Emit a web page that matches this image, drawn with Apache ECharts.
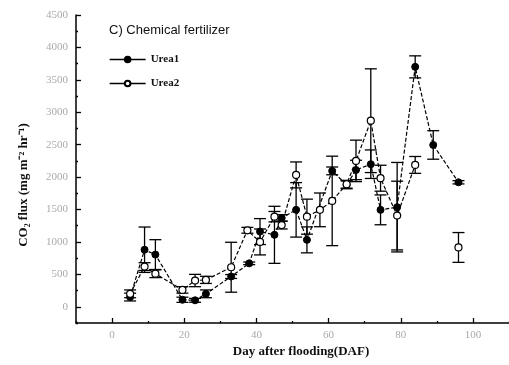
<!DOCTYPE html>
<html><head><meta charset="utf-8">
<script src="https://cdn.jsdelivr.net/npm/echarts@6/dist/echarts.min.js"></script>
<style>html,body{margin:0;padding:0;background:#fff}#c{width:509px;height:365px}</style>
</head><body><div id="c"></div>
<script>
// Day after flooding and CO2 flux values
const days1 = [5, 9, 12, 19.5, 23, 26, 33, 38, 41, 45, 47, 51, 54, 61, 65, 67.6, 71.7, 74.4, 79, 84, 89, 96];
const urea1 = [150, 880, 805, 108, 100, 200, 467, 670, 1160, 1110, 1370, 1495, 1032, 2096, 1880, 2110, 2199, 1495, 1536, 3700, 2496, 1920];
const err1  = [60, 350, 230, 40, 30, 60, 30, 20, 200, 440, 50, 420, 200, 60, 60, 150, 220, 230, 690, 170, 220, 25];

const days2 = [5, 9, 12, 19.5, 23, 26, 33, 37.5, 41, 45, 47, 51, 54, 57.6, 61, 65, 67.6, 71.7, 74.4, 79, 84, 89, 96];
const urea2 = [200, 620, 510, 260, 405, 415, 610, 1180, 1000, 1390, 1260, 2034, 1390, 1495, 1633, 1890, 2250, 2870, 1983, 1407, 2188, null, 915];
const err2  = [60, 60, 60, 50, 95, 55, 385, 45, 200, 80, 60, 200, 270, 260, 690, 60, 320, 800, 200, 530, 130, null, 230];

const xMajor = [0, 20, 40, 60, 80, 100];
const xMinor = [-10, 10, 30, 50, 70, 90, 110];
const yMajor = [0, 500, 1000, 1500, 2000, 2500, 3000, 3500, 4000, 4500];
const yMinor = [-250, 250, 750, 1250, 1750, 2250, 2750, 3250, 3750, 4250];

const pts = (d, v, e) => d.map((x, i) => [x, v[i], e ? e[i] : 0]);

function errBar(params, api) {
  const v = api.value(1), e = api.value(2);
  if (v === null || isNaN(v) || e === null || isNaN(e)) return;
  const x = api.value(0);
  const top = api.coord([x, v + e]);
  const bot = api.coord([x, v - e]);
  const w = 6;
  const st = { stroke: '#000', lineWidth: 1.3 };
  return { type: 'group', children: [
    { type: 'line', shape: { x1: top[0], y1: top[1], x2: bot[0], y2: bot[1] }, style: st },
    { type: 'line', shape: { x1: top[0] - w, y1: top[1], x2: top[0] + w, y2: top[1] }, style: st },
    { type: 'line', shape: { x1: bot[0] - w, y1: bot[1], x2: bot[0] + w, y2: bot[1] }, style: st }
  ]};
}

const serif = 'Liberation Serif';
const plain = v => String(v);
const chart = echarts.init(document.getElementById('c'));
chart.setOption({
  animation: false,
  backgroundColor: '#fff',
  grid: { left: 76, top: 15, width: 440, height: 308 },
  title: { text: 'C) Chemical fertilizer', left: 109, top: 24, padding: 0,
    textStyle: { fontFamily: 'Liberation Sans', fontSize: 13, fontWeight: 'normal', color: '#111' } },
  legend: {
    left: 109, top: 54, padding: 0, orient: 'vertical', itemGap: 13, itemWidth: 36, itemHeight: 7,
    data: ['Urea1', 'Urea2'],
    textStyle: { fontFamily: serif, fontSize: 11, fontWeight: 'bold', color: '#111' },
    lineStyle: { type: 'solid', width: 1.3 }
  },
  xAxis: [
    { type: 'value', min: -10, max: 110, interval: 10,
      axisLine: { onZero: false, lineStyle: { color: '#000', width: 1.5 } },
      axisTick: { inside: true, length: 5, customValues: xMajor, lineStyle: { color: '#000', width: 1.3 } },
      axisLabel: { customValues: xMajor, formatter: plain, margin: 7, color: '#aaa', fontFamily: serif, fontSize: 11 },
      splitLine: { show: false } },
    { type: 'value', min: -10, max: 110, position: 'bottom',
      axisLine: { show: false, onZero: false },
      axisTick: { inside: true, length: 2, customValues: xMinor, lineStyle: { color: '#000', width: 1.3 } },
      axisLabel: { show: false }, splitLine: { show: false } }
  ],
  yAxis: [
    { type: 'value', min: -250, max: 4500, interval: 250,
      axisLine: { show: true, onZero: false, lineStyle: { color: '#000', width: 1.5 } },
      axisTick: { show: true, inside: true, length: 5, customValues: yMajor, lineStyle: { color: '#000', width: 1.3 } },
      axisLabel: { customValues: yMajor, formatter: plain, margin: 8, color: '#aaa', fontFamily: serif, fontSize: 11 },
      splitLine: { show: false } },
    { type: 'value', min: -250, max: 4500, position: 'left',
      axisLine: { show: false, onZero: false },
      axisTick: { show: true, inside: true, length: 2, customValues: yMinor, lineStyle: { color: '#000', width: 1.3 } },
      axisLabel: { show: false }, splitLine: { show: false } }
  ],
  graphic: [
    { type: 'text', x: 301, y: 352, style: { text: 'Day after flooding(DAF)', fontFamily: serif, fontSize: 13, fontWeight: 'bold', fill: '#111', align: 'center', verticalAlign: 'middle' } },
    { type: 'text', x: 24, y: 185, rotation: Math.PI / 2, style: { text: 'CO\u2082 flux (mg m\u207B\u00B2 hr\u207B\u00B9)', fontFamily: serif, fontSize: 13, fontWeight: 'bold', fill: '#111', align: 'center', verticalAlign: 'middle' } }
  ],
  series: [
    { name: 'err1', type: 'custom', renderItem: errBar, data: pts(days1, urea1, err1), encode: { x: 0, y: 1 }, z: 2 },
    { name: 'err2', type: 'custom', renderItem: errBar, data: pts(days2, urea2, err2), encode: { x: 0, y: 1 }, z: 2 },
    { name: 'Urea1', type: 'line', data: pts(days1, urea1), symbol: 'circle', symbolSize: 7,
      itemStyle: { color: '#000', borderColor: '#000', borderWidth: 1 },
      lineStyle: { color: '#000', width: 1.2, type: [4, 2] }, z: 3 },
    { name: 'Urea2', type: 'line', data: pts(days2, urea2), connectNulls: false, symbol: 'circle', symbolSize: 7,
      showAllSymbol: true,
      itemStyle: { color: '#fff', borderColor: '#000', borderWidth: 1.2 },
      lineStyle: { color: '#000', width: 1.2, type: [4, 2] }, z: 4 }
  ]
});
</script></body></html>
